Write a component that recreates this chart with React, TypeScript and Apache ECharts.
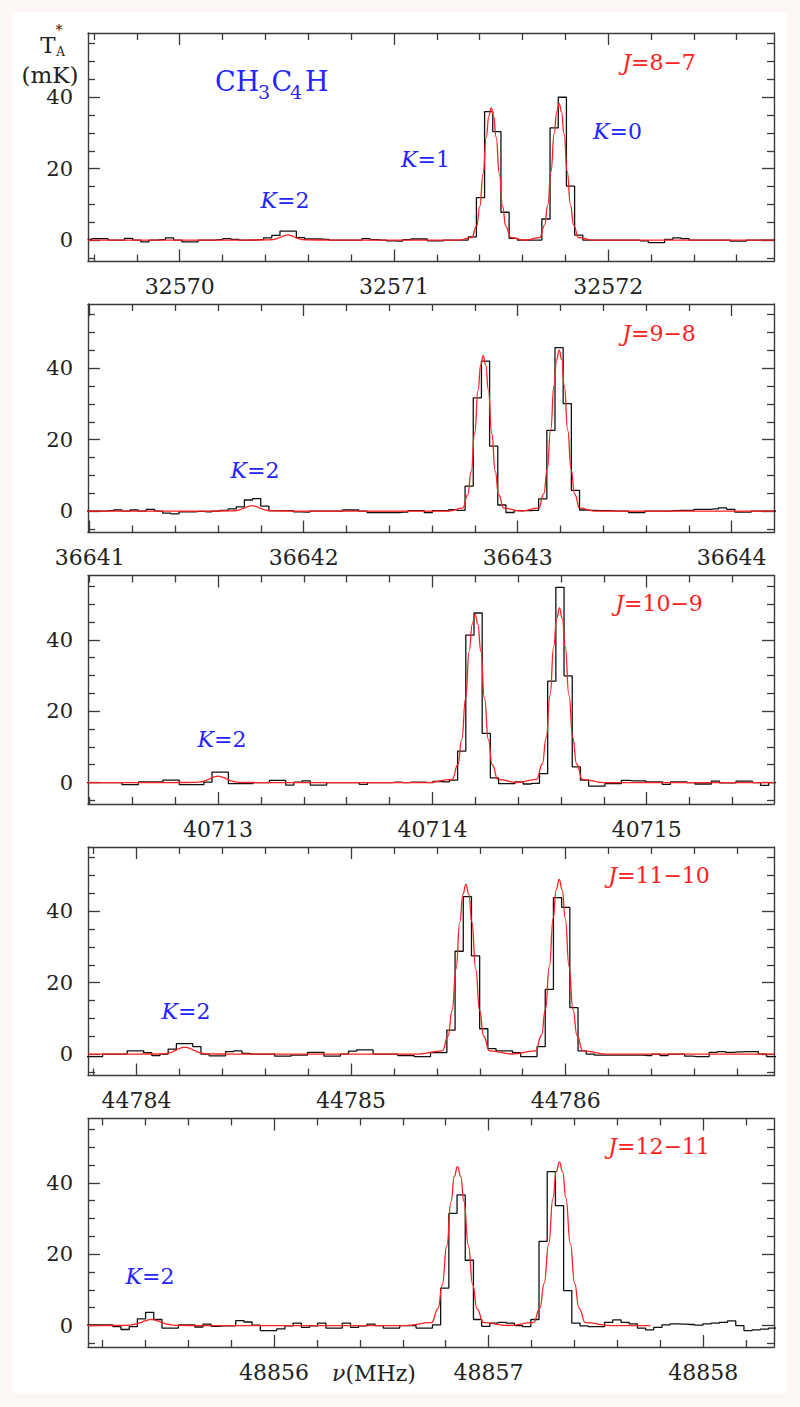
import React, { useEffect, useRef } from "react";
import * as echarts from "echarts";

// ---------------- DATA ----------------
const CHANNEL_MHZ = 0.0382;

// Panel 1 : J=8-7
const p1Start = 32569.5704;
const p1Range = [32569.572, 32572.774];
const p1Ticks = [32570, 32571, 32572];
const p1Spectrum = [
  0.2, 0.4, 0.4, 0, 0, 0.5, 0, -0.5, 0, 0.1,
  0.6, 0, -0.5, -0.5, 0, 0, 0.1, 0.4, 0.2, 0,
  0, 0.1, 0.6, 1.3, 2.5, 2.5, 0.7, 0.3, 0.3, 0.2,
  0, 0, 0, 0, 0.4, 0.1, 0, -0.2, -0.3, 0.1,
  0.3, 0.3, -0.2, -0.2, 0, 0, 0, 0.9, 11.9, 36.0,
  30.4, 7.8, 0.5, 0, 0, 0, 5.9, 31.4, 40.0, 15.1,
  1.4, 0, 0, 0, 0, 0, 0, 0, -0.2, -0.7,
  -0.7, 0.2, 0.6, 0.4, 0, 0, 0, 0, 0, -0.3,
  -0.3, 0, 0, 0, 0,
];
const p1Fit = [
  [32569.572, 0], [32570.3, 0],
  [32570.413, 0.03], [32570.436, 0.15], [32570.451, 0.36], [32570.466, 0.7], [32570.481, 1.09], [32570.493, 1.32], [32570.504, 1.4], [32570.515, 1.32], [32570.527, 1.09], [32570.542, 0.7], [32570.557, 0.36], [32570.572, 0.15], [32570.595, 0.03],
  [32570.7, 0], [32571.3, 0],
  [32571.363, 0.7], [32571.386, 3.9], [32571.401, 9.5], [32571.416, 18.5], [32571.431, 28.8], [32571.443, 34.8], [32571.454, 37.0], [32571.465, 34.8], [32571.477, 28.8], [32571.492, 18.5], [32571.507, 9.5], [32571.522, 3.9], [32571.545, 0.7],
  [32571.612, 0.02],
  [32571.68, 0.7], [32571.703, 4.1], [32571.718, 9.8], [32571.733, 19.2], [32571.748, 29.8], [32571.76, 36.0], [32571.771, 38.3], [32571.782, 36.0], [32571.794, 29.8], [32571.809, 19.2], [32571.824, 9.8], [32571.839, 4.1], [32571.862, 0.7],
  [32571.93, 0], [32572.774, 0],
];

// Panel 2 : J=9-8
const p2Start = 36640.978;
const p2Range = [36640.992, 36644.198];
const p2Ticks = [36641, 36642, 36643, 36644];
const p2Spectrum = [
  0, 0, 0, 0.1, 0.3, 0, 0.3, 0, 0.5, 0,
  -0.6, -0.8, -0.2, -0.2, -0.1, -0.2, 0, 0.2, 0.6, 1.2,
  3.1, 3.5, 1.4, 0.1, 0.1, 0.1, -0.2, -0.3, 0, 0,
  0, 0, 0.3, 0.3, 0, -0.4, -0.4, -0.4, -0.4, -0.3,
  0.1, 0.1, -0.4, 0.1, 0.1, 0.4, 0.2, 7.0, 31.7, 42.0,
  18.2, 1.7, -0.4, 0.1, 0.1, 0.2, 3.4, 22.6, 45.8, 30.1,
  5.8, 0.3, 0.2, 0.1, 0.1, 0, 0, -0.4, -0.4, 0,
  0, 0, 0.1, 0.2, 0.2, 0.5, 0.5, 0.6, 0.9, 0.5,
  -0.3, -0.3, 0, 0, 0, 0,
];
const p2Fit = [
  [36640.992, 0], [36641.55, 0],
  [36641.663, 0.03], [36641.687, 0.16], [36641.703, 0.39], [36641.719, 0.75], [36641.735, 1.17], [36641.747, 1.41], [36641.759, 1.5], [36641.771, 1.41], [36641.783, 1.17], [36641.799, 0.75], [36641.815, 0.39], [36641.831, 0.16], [36641.855, 0.03],
  [36641.96, 0], [36642.68, 0],
  [36642.743, 0.8], [36642.767, 4.6], [36642.783, 11.2], [36642.799, 21.8], [36642.815, 33.9], [36642.827, 40.9], [36642.839, 43.5], [36642.851, 40.9], [36642.863, 33.9], [36642.879, 21.8], [36642.895, 11.2], [36642.911, 4.6], [36642.935, 0.8],
  [36643.017, 0.02],
  [36643.098, 0.8], [36643.122, 4.8], [36643.138, 11.6], [36643.154, 22.6], [36643.17, 35.1], [36643.182, 42.4], [36643.194, 45.1], [36643.206, 42.4], [36643.218, 35.1], [36643.234, 22.6], [36643.25, 11.6], [36643.266, 4.8], [36643.29, 0.8],
  [36643.36, 0], [36644.198, 0],
];

// Panel 3 : J=10-9
const p3Start = 40712.3796;
const p3Range = [40712.393, 40715.594];
const p3Ticks = [40713, 40714, 40715];
const p3Spectrum = [
  0, 0, 0, 0, 0, -0.6, -0.6, 0.2, 0.2, 0.2,
  0.7, 0.7, -0.6, -0.6, -0.6, 0.1, 2.9, 2.9, -0.3, -0.3,
  -0.3, 0, 0, 0.6, 0.6, -0.7, 0.1, 0.5, -0.7, -0.7,
  0, 0, 0, 0, -0.5, 0, 0, 0, 0.1, 0,
  0.1, 0.1, 0, 0.3, 0.2, 0.7, 8.8, 41.3, 47.5, 13.8,
  1.3, -0.3, -0.3, 0.2, -0.4, -0.2, 2.5, 28.4, 54.7, 29.9,
  4.4, 0.7, -1.0, -1.0, -0.3, -0.3, 0.6, 0.5, 0.5, 0.2,
  0.2, -0.5, 0.2, 0.2, 0, -0.4, -0.4, 0.4, -0.1, -0.1,
  0.4, 0.4, 0, -0.8, 0, 0,
];
const p3Fit = [
  [40712.393, 0], [40712.78, 0],
  [40712.893, 0.03], [40712.92, 0.19], [40712.938, 0.46], [40712.956, 0.9], [40712.973, 1.4], [40712.987, 1.69], [40713.0, 1.8], [40713.013, 1.69], [40713.027, 1.4], [40713.045, 0.9], [40713.062, 0.46], [40713.08, 0.19], [40713.107, 0.03],
  [40713.22, 0], [40713.98, 0],
  [40714.092, 0.9], [40714.119, 5.0], [40714.137, 12.1], [40714.155, 23.6], [40714.172, 36.8], [40714.186, 44.4], [40714.199, 47.2], [40714.212, 44.4], [40714.226, 36.8], [40714.243, 23.6], [40714.261, 12.1], [40714.279, 5.0], [40714.306, 0.9],
  [40714.396, 0.02],
  [40714.486, 0.9], [40714.513, 5.2], [40714.531, 12.6], [40714.549, 24.5], [40714.566, 38.1], [40714.58, 46.0], [40714.593, 48.9], [40714.606, 46.0], [40714.62, 38.1], [40714.637, 24.5], [40714.655, 12.6], [40714.673, 5.2], [40714.7, 0.9],
  [40714.8, 0], [40715.594, 0],
];

// Panel 4 : J=11-10
const p4Start = 44783.7466;
const p4Range = [44783.774, 44786.971];
const p4Ticks = [44784, 44785, 44786];
const p4Spectrum = [
  -0.7, -0.7, -0.7, 0, 0, 0, 0.9, 0.9, 0.4, -0.4,
  0, 1.4, 2.9, 2.9, 2.1, 0, -0.5, -0.5, 0.7, 0.9,
  0.2, 0, 0, 0, -0.6, -0.6, -0.3, -0.3, 0.5, 0.5,
  -0.6, -0.6, 0, 0.8, 1.2, 1.2, 0, 0, 0, -0.4,
  -0.4, -0.7, -0.7, 0.4, 0.4, 6.7, 28.8, 44.1, 27.5, 7.1,
  1.5, 0.9, 0.9, 0.4, -0.7, -0.7, 2.1, 18.1, 43.8, 41.1,
  13.0, 0.9, 0, -0.3, -0.3, -0.3, -0.3, -0.3, -0.3, -0.4,
  0, -0.4, 0, 0, -0.6, -0.7, -0.7, 0.5, 0.7, 0.5,
  0.6, 0.7, 0.7, 0, -0.7, -0.7,
];
const p4Fit = [
  [44783.774, 0], [44784.0, 0],
  [44784.115, 0.04], [44784.142, 0.2], [44784.161, 0.49], [44784.179, 0.95], [44784.197, 1.48], [44784.211, 1.79], [44784.225, 1.9], [44784.239, 1.79], [44784.253, 1.48], [44784.271, 0.95], [44784.289, 0.49], [44784.308, 0.2], [44784.335, 0.04],
  [44784.45, 0], [44785.31, 0],
  [44785.425, 0.9], [44785.452, 5.0], [44785.471, 12.2], [44785.489, 23.8], [44785.507, 37.0], [44785.521, 44.7], [44785.535, 47.5], [44785.549, 44.7], [44785.563, 37.0], [44785.581, 23.8], [44785.599, 12.2], [44785.618, 5.0], [44785.645, 0.9],
  [44785.752, 0.02],
  [44785.86, 0.9], [44785.887, 5.2], [44785.906, 12.6], [44785.924, 24.5], [44785.942, 38.1], [44785.956, 46.0], [44785.97, 48.9], [44785.984, 46.0], [44785.998, 38.1], [44786.016, 24.5], [44786.034, 12.6], [44786.053, 5.2], [44786.08, 0.9],
  [44786.19, 0], [44786.971, 0],
];

// Panel 5 : J=12-11
const p5Start = 48855.1148;
const p5Range = [48855.133, 48858.33];
const p5Ticks = [48856, 48857, 48858];
const p5Spectrum = [
  0.2, 0.2, 0.2, 0.2, -0.3, -1.1, -0.3, 1.9, 3.7, 1.7,
  -0.7, -0.7, 0.2, 0.2, -0.4, 0.4, -0.2, -0.1, -0.1, 1.4,
  1.0, 0.1, -1.4, -1.4, -0.9, -0.1, 0.7, -0.5, -0.1, 0.7,
  -0.7, -0.7, 0.7, -0.5, -0.1, 0.4, 0, -0.7, -0.7, 0,
  0, -0.7, -0.7, 0.2, 10.5, 31.4, 36.6, 18.3, 1.7, -0.2,
  0.7, 0.9, 0.7, 0, -0.3, 1.7, 23.6, 43.1, 33.6, 9.8,
  0.7, -0.1, -0.3, -0.3, 0.9, 1.6, 0.9, 0.5, -0.7, -1.2,
  -0.5, 0.2, 0.5, 0.4, 0.3, 0.1, 0.5, 0.7, 0.9, 1.3,
  0, -1.4, -1.2, -1.0, -0.7, -0.7,
];
const p5Fit = [
  [48855.133, 0], [48855.19, 0],
  [48855.307, 0.03], [48855.337, 0.18], [48855.357, 0.44], [48855.378, 0.85], [48855.398, 1.32], [48855.413, 1.6], [48855.428, 1.7], [48855.443, 1.6], [48855.458, 1.32], [48855.479, 0.85], [48855.499, 0.44], [48855.519, 0.18], [48855.549, 0.03],
  [48855.66, 0], [48856.61, 0],
  [48856.734, 0.8], [48856.764, 4.7], [48856.784, 11.4], [48856.805, 22.3], [48856.825, 34.7], [48856.84, 41.8], [48856.855, 44.5], [48856.87, 41.8], [48856.885, 34.7], [48856.906, 22.3], [48856.926, 11.4], [48856.946, 4.7], [48856.976, 0.8],
  [48857.092, 0.02],
  [48857.209, 0.8], [48857.239, 4.9], [48857.259, 11.8], [48857.28, 22.9], [48857.3, 35.7], [48857.315, 43.1], [48857.33, 45.8], [48857.345, 43.1], [48857.36, 35.7], [48857.381, 22.9], [48857.401, 11.8], [48857.421, 4.9], [48857.451, 0.8],
  [48857.57, 0], [48857.754, 0],
];

const yRange = [-6, 58];
const yMajorTicks = [0, 20, 40];
const yMinorTicks = [-5, 5, 10, 15, 25, 30, 35, 45, 50, 55];
const transitions = ["8−7", "9−8", "10−9", "11−10", "12−11"];

// ---------------- LAYOUT / STYLE ----------------
const FONT = '"DejaVu Serif", serif';
const AXIS_COLOR = "#3a3a3a";
const TEXT_COLOR = "#222";
const BLUE = "#2424ff";
const RED = "#ff2020";
const GRID_LEFT = 88;
const GRID_W = 686;
const GRID_H = 228.5;
const GRID_TOPS = [33, 304, 575.5, 847, 1118.5];
const J_LABEL_Y = [62.5, 333.3, 603.3, 875, 1146.7];

const PANELS = [
  { start: p1Start, spec: p1Spectrum, fit: p1Fit, range: p1Range, ticks: p1Ticks },
  { start: p2Start, spec: p2Spectrum, fit: p2Fit, range: p2Range, ticks: p2Ticks },
  { start: p3Start, spec: p3Spectrum, fit: p3Fit, range: p3Range, ticks: p3Ticks },
  { start: p4Start, spec: p4Spectrum, fit: p4Fit, range: p4Range, ticks: p4Ticks },
  { start: p5Start, spec: p5Spectrum, fit: p5Fit, range: p5Range, ticks: p5Ticks },
];

function minorTicks(min: number, max: number, step: number, majors: number[]) {
  const out: number[] = [];
  const s = Math.ceil(min / step - 1e-9);
  const e = Math.floor(max / step + 1e-9);
  for (let k = s; k <= e; k++) {
    const v = +(k * step).toFixed(4);
    if (!majors.some((m) => Math.abs(m - v) < 1e-6)) out.push(v);
  }
  return out;
}

function axisDef(
  kind: "x" | "y",
  gi: number,
  min: number,
  max: number,
  values: number[],
  len: number,
  showLine: boolean,
  position: string,
  labels: boolean
) {
  return {
    type: "value",
    gridIndex: gi,
    min,
    max,
    position,
    axisLine: { show: showLine, onZero: false, lineStyle: { color: AXIS_COLOR, width: 1.4 } },
    axisTick: {
      show: true,
      inside: true,
      length: len,
      customValues: values,
      lineStyle: { color: AXIS_COLOR, width: 1.3 },
    },
    axisLabel: labels
      ? {
          show: true,
          customValues: values,
          formatter: (v: number) => String(v),
          fontFamily: FONT,
          fontSize: kind === "x" ? 22 : 21,
          color: TEXT_COLOR,
          margin: kind === "x" ? 14 : 15,
        }
      : { show: false },
    splitLine: { show: false },
    minorTick: { show: false },
  };
}

function text(x: number, y: number, str: string, size: number, color: string, italic = false, align = "center") {
  return {
    type: "text",
    x,
    y,
    z: 100,
    silent: true,
    style: {
      text: str,
      fill: color,
      fontFamily: FONT,
      fontSize: size,
      fontStyle: italic ? "italic" : "normal",
      align,
      verticalAlign: "middle",
      textAlign: align,
      textVerticalAlign: "middle",
    },
  };
}

function richLabel(x: number, y: number, ital: string, rest: string, size: number, color: string) {
  return {
    type: "text",
    x,
    y,
    z: 100,
    silent: true,
    style: {
      text: `{i|${ital}}{n|${rest}}`,
      fill: color,
      fontFamily: FONT,
      fontSize: size,
      align: "center",
      verticalAlign: "middle",
      textAlign: "center",
      textVerticalAlign: "middle",
      rich: {
        i: { fontFamily: FONT, fontSize: size, fontStyle: "italic", fill: color },
        n: { fontFamily: FONT, fontSize: size, fontStyle: "normal", fill: color },
      },
    },
  };
}

function buildOption() {
  const grid: any[] = [];
  const xAxis: any[] = [];
  const yAxis: any[] = [];
  const series: any[] = [];

  PANELS.forEach((p, gi) => {
    grid.push({
      left: GRID_LEFT,
      top: GRID_TOPS[gi],
      width: GRID_W,
      height: GRID_H,
      containLabel: false,
      outerBoundsMode: "none",
    });
    const [xmin, xmax] = p.range;
    const xMinor = minorTicks(xmin, xmax, 0.2, p.ticks);
    xAxis.push(axisDef("x", gi, xmin, xmax, p.ticks, 12, true, "bottom", true));
    xAxis.push(axisDef("x", gi, xmin, xmax, xMinor, 7, false, "bottom", false));
    xAxis.push(axisDef("x", gi, xmin, xmax, p.ticks, 12, true, "top", false));
    xAxis.push(axisDef("x", gi, xmin, xmax, xMinor, 7, false, "top", false));
    yAxis.push(axisDef("y", gi, yRange[0], yRange[1], yMajorTicks, 12, true, "left", true));
    yAxis.push(axisDef("y", gi, yRange[0], yRange[1], yMinorTicks, 7, false, "left", false));
    yAxis.push(axisDef("y", gi, yRange[0], yRange[1], yMajorTicks, 12, true, "right", false));
    yAxis.push(axisDef("y", gi, yRange[0], yRange[1], yMinorTicks, 7, false, "right", false));

    series.push({
      type: "line",
      xAxisIndex: gi * 4,
      yAxisIndex: gi * 4,
      data: p.spec.map((v, i) => [p.start + i * CHANNEL_MHZ, v]),
      step: "middle",
      symbol: "none",
      showSymbol: false,
      clip: true,
      silent: true,
      z: 3,
      lineStyle: { color: "#111111", width: 1.3 },
    });
    series.push({
      type: "line",
      xAxisIndex: gi * 4,
      yAxisIndex: gi * 4,
      data: p.fit,
      smooth: 0.5,
      smoothMonotone: "x",
      symbol: "none",
      showSymbol: false,
      clip: true,
      silent: true,
      z: 4,
      lineStyle: { color: RED, width: 1.3 },
    });
  });

  const graphics: any[] = [];
  // y-axis title
  graphics.push(text(48, 44.5, "T", 23, TEXT_COLOR));
  graphics.push(text(59, 30, "*", 14, TEXT_COLOR));
  graphics.push(text(60.5, 51.5, "A", 12, TEXT_COLOR));
  graphics.push(text(50, 74.5, "(mK)", 23, TEXT_COLOR));
  // molecule
  graphics.push(text(215, 81.7, "CH", 27, BLUE, false, "left"));
  graphics.push(text(258, 92.4, "3", 19, BLUE, false, "left"));
  graphics.push(text(271.5, 81.7, "C", 27, BLUE, false, "left"));
  graphics.push(text(290, 92.4, "4", 19, BLUE, false, "left"));
  graphics.push(text(305, 81.7, "H", 27, BLUE, false, "left"));
  // transitions
  transitions.forEach((t, i) => graphics.push(richLabel(659, J_LABEL_Y[i], "J", "=" + t, 22, RED)));
  // K labels
  graphics.push(richLabel(285, 200, "K", "=2", 22, BLUE));
  graphics.push(richLabel(425.5, 159, "K", "=1", 22, BLUE));
  graphics.push(richLabel(617.5, 131.5, "K", "=0", 22, BLUE));
  graphics.push(richLabel(255, 470, "K", "=2", 22, BLUE));
  graphics.push(richLabel(222, 739, "K", "=2", 22, BLUE));
  graphics.push(richLabel(186, 1011.7, "K", "=2", 22, BLUE));
  graphics.push(richLabel(150, 1276.7, "K", "=2", 22, BLUE));
  // x-axis name
  graphics.push(richLabel(374, 1373.5, "ν", "(MHz)", 22, TEXT_COLOR));

  return {
    animation: false,
    backgroundColor: "transparent",
    grid,
    xAxis,
    yAxis,
    series,
    graphic: { elements: graphics },
  };
}

export default function App() {
  const ref = useRef<HTMLDivElement>(null);
  useEffect(() => {
    if (!ref.current) return;
    const chart = echarts.init(ref.current, null, { renderer: "svg" });
    chart.setOption(buildOption() as any);
    return () => chart.dispose();
  }, []);
  return (
    <div style={{ position: "fixed", left: 0, top: 0, width: 800, height: 1407, background: "#fdf7f5" }}>
      <div style={{ position: "absolute", left: 12, top: 12, width: 775, height: 1381, background: "#ffffff" }} />
      <div ref={ref} style={{ position: "absolute", left: 0, top: 0, width: 800, height: 1407 }} />
    </div>
  );
}
